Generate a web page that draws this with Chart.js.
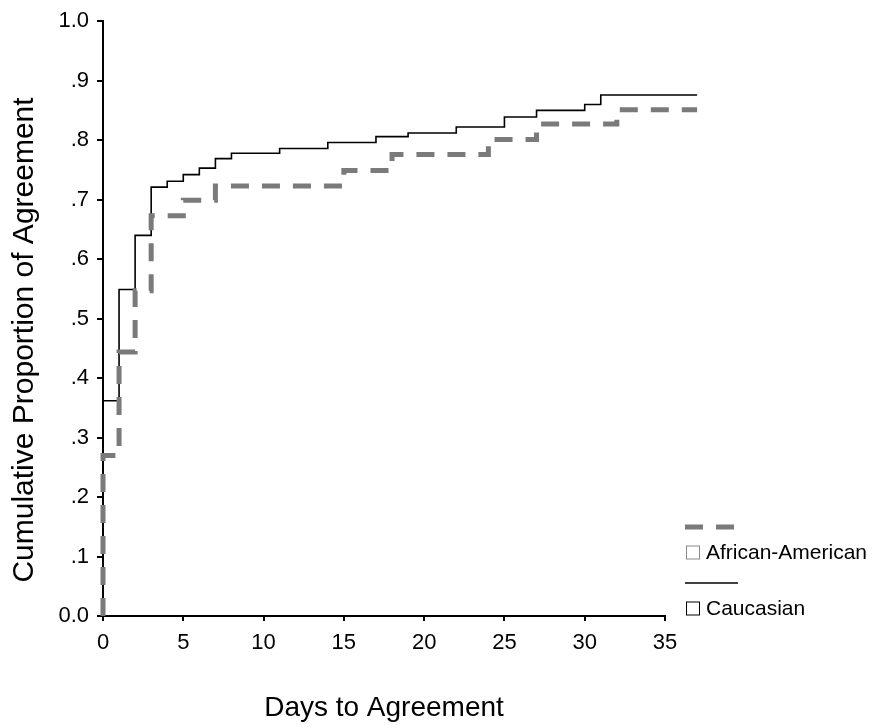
<!DOCTYPE html>
<html>
<head>
<meta charset="utf-8">
<script src="https://cdn.jsdelivr.net/npm/chart.js@4/dist/chart.umd.min.js"></script>
<style>
  html, body { margin: 0; padding: 0; background: #fff; }
  canvas { display: block; }
</style>
</head>
<body>
<canvas id="chart" width="894" height="728"></canvas>
<script>
// Cumulative proportion of agreement
const africanDays = [0, 0, 1, 2, 3, 5, 7, 15, 18, 24, 27, 32, 37];
const africanProp = [0, 0.270, 0.444, 0.547, 0.673, 0.699, 0.723, 0.749, 0.776, 0.801, 0.827, 0.851, 0.851];

const caucasianDays = [0, 0, 1, 2, 3, 4, 5, 6, 7, 8, 11, 14, 17, 19, 22, 25, 27, 30, 31, 37];
const caucasianProp = [0, 0.362, 0.549, 0.640, 0.721, 0.731, 0.742, 0.753, 0.769, 0.778, 0.786, 0.796, 0.806, 0.812, 0.822, 0.839, 0.850, 0.860, 0.876, 0.876];

const seriesLabels = ['African-American', 'Caucasian'];
const xTitle = 'Days to Agreement';
const yTitle = 'Cumulative Proportion of Agreement';

const FONT = 'Arial, "Liberation Sans", Helvetica, sans-serif';
const INK = '#000';
const DASH_GREY = '#7a7a7a';

const LEGEND = {
  left: 685,
  top: 527,
  rowGap: 56,
  lineLen: 53,
  boxX: 686,
  boxSize: 13,
  boxOffset: 25,
  textX: 706,
  font: `21px ${FONT}`,
};

function toPoints(xs, ys) {
  return xs.map((x, i) => ({ x, y: ys[i] }));
}

function yTick(value) {
  if (value === 0) return '0.0';
  if (value === 1) return '1.0';
  return '.' + Math.round(value * 10);
}

// legend drawn as line sample on one row, box + label on the next
const stackedLegend = {
  id: 'stackedLegend',
  afterDraw(chart) {
    const { ctx } = chart;
    ctx.save();
    chart.data.datasets.forEach((ds, i) => {
      const y = LEGEND.top + i * LEGEND.rowGap;
      ctx.strokeStyle = ds.borderColor;
      ctx.lineWidth = ds.borderWidth;
      ctx.setLineDash(ds.borderDash || []);
      ctx.beginPath();
      ctx.moveTo(LEGEND.left, y);
      ctx.lineTo(LEGEND.left + LEGEND.lineLen, y);
      ctx.stroke();

      const cy = y + LEGEND.boxOffset;
      ctx.setLineDash([]);
      ctx.lineWidth = 1;
      ctx.strokeStyle = ds.boxColor;
      ctx.strokeRect(LEGEND.boxX + 0.5, cy - LEGEND.boxSize / 2 + 0.5, LEGEND.boxSize, LEGEND.boxSize);

      ctx.fillStyle = INK;
      ctx.font = LEGEND.font;
      ctx.textBaseline = 'middle';
      ctx.textAlign = 'left';
      ctx.fillText(ds.label, LEGEND.textX, cy + 1);
    });
    ctx.restore();
  },
};

// y title sits a bit lower than the axis centre in the original
const yAxisTitle = {
  id: 'yAxisTitle',
  afterDraw(chart) {
    const { ctx } = chart;
    ctx.save();
    ctx.translate(25, 340);
    ctx.rotate(-Math.PI / 2);
    ctx.font = `30px ${FONT}`;
    ctx.fillStyle = INK;
    ctx.textAlign = 'center';
    ctx.textBaseline = 'middle';
    ctx.fillText(yTitle, 0, 0);
    ctx.restore();
  },
};

new Chart(document.getElementById('chart'), {
  type: 'line',
  data: {
    datasets: [
      {
        label: seriesLabels[0],
        data: toPoints(africanDays, africanProp),
        stepped: true,
        borderColor: DASH_GREY,
        borderWidth: 5,
        borderDash: [18, 13],
        boxColor: '#8a8a8a',
        pointRadius: 0,
        fill: false,
        clip: false,
      },
      {
        label: seriesLabels[1],
        data: toPoints(caucasianDays, caucasianProp),
        stepped: true,
        borderColor: INK,
        borderWidth: 1.6,
        boxColor: INK,
        pointRadius: 0,
        fill: false,
        clip: false,
      },
    ],
  },
  options: {
    responsive: false,
    animation: false,
    layout: { padding: { top: 18, right: 229, left: 0, bottom: 0 } },
    plugins: {
      legend: { display: false },
      tooltip: { enabled: false },
    },
    scales: {
      x: {
        type: 'linear',
        min: 0,
        max: 35,
        afterFit(scale) { scale.height = 112; },
        border: { display: true, color: INK, width: 2 },
        grid: { drawOnChartArea: false, drawTicks: true, tickLength: 5, color: INK, lineWidth: 2 },
        ticks: {
          stepSize: 5,
          includeBounds: false,
          padding: 9,
          color: INK,
          font: { family: FONT, size: 22 },
        },
        title: {
          display: true,
          text: xTitle,
          color: INK,
          font: { family: FONT, size: 28 },
          padding: { top: 0, bottom: 3 },
        },
      },
      y: {
        min: 0,
        max: 1,
        afterFit(scale) { scale.width = 103; },
        border: { display: true, color: INK, width: 2 },
        grid: { drawOnChartArea: false, drawTicks: true, tickLength: 6, color: INK, lineWidth: 2 },
        ticks: {
          stepSize: 0.1,
          padding: 8,
          color: INK,
          font: { family: FONT, size: 22 },
          callback: yTick,
        },
      },
    },
  },
  plugins: [stackedLegend, yAxisTitle],
});
</script>
</body>
</html>
